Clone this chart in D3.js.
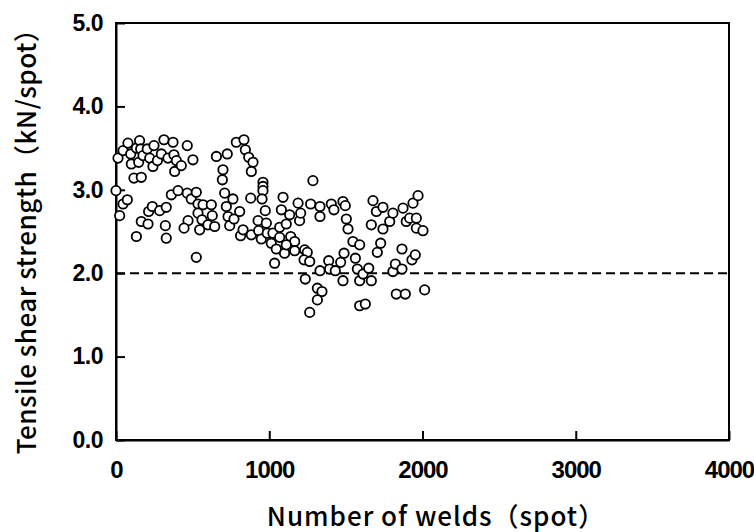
<!DOCTYPE html>
<html>
<head>
<meta charset="utf-8">
<script src="https://cdn.jsdelivr.net/npm/d3@7/dist/d3.min.js"></script>
<style>
  html, body { margin: 0; padding: 0; background: #fff; }
  svg { display: block; }
</style>
</head>
<body>
<svg id="chart" width="754" height="532"></svg>
<script>
// Number of welds (spot) for each tested specimen
const welds = [
  13, 46, 78, 96, 100, 133, 154, 148, 161, 176, 117, 165, 204, 220, 248, 241, 270, 296, 313, 339,
  372, 378, 394, 383, 426, 465, 502, 655, 726, 698, 694, 785, 835, 844, 866, 894, 883,
  0, 46, 74, 24, 133, 165, 209, 213, 237, 285, 328, 322, 328, 361, 405, 465, 491, 470, 444,
  524, 535, 568, 535, 561, 546, 600, 622, 628, 644, 524, 709, 720, 731, 742, 763, 770, 807,
  813, 829, 879, 883,
  959, 959, 959, 953, 974, 927, 931, 948, 981, 987, 1024, 1013, 1046, 1035, 1068, 1079, 1090,
  1068, 1111, 1100, 1133, 1140, 1166, 1111, 1166, 1188, 1198, 1205, 1231, 1248, 1227, 1264,
  1285, 1270, 1331, 1331, 1235, 1314, 1344, 1314, 1264, 1331, 1388, 1394, 1405, 1422, 1431,
  1466, 1488, 1481, 1496, 1503, 1514, 1481, 1546, 1562, 1575, 1590, 1590, 1612, 1649, 1666,
  1590, 1627, 1677, 1666, 1699, 1705, 1727, 1742, 1742, 1786, 1807, 1807, 1823, 1829, 1866,
  1866, 1873, 1888, 1894, 1916, 1931, 1953, 1938, 1971, 1960, 1960, 2003, 2014
];

// Tensile shear strength (kN/spot) measured at each weld count
const strength = [
  3.38, 3.47, 3.56, 3.43, 3.31, 3.50, 3.59, 3.33, 3.49, 3.41, 3.14, 3.15, 3.49, 3.38, 3.53, 3.28, 3.35, 3.43, 3.60, 3.38,
  3.57, 3.42, 3.35, 3.22, 3.29, 3.53, 3.36, 3.40, 3.43, 3.24, 3.12, 3.57, 3.60, 3.48, 3.39, 3.33, 3.22,
  2.99, 2.83, 2.88, 2.69, 2.44, 2.62, 2.59, 2.74, 2.80, 2.75, 2.79, 2.57, 2.42, 2.94, 2.99, 2.96, 2.89, 2.63, 2.54,
  2.97, 2.83, 2.82, 2.72, 2.64, 2.52, 2.58, 2.82, 2.69, 2.56, 2.19, 2.96, 2.80, 2.68, 2.57, 2.89, 2.65, 2.74,
  2.45, 2.52, 2.90, 2.46,
  3.09, 3.04, 2.99, 2.89, 2.75, 2.63, 2.51, 2.41, 2.60, 2.48, 2.48, 2.36, 2.29, 2.12, 2.55, 2.76, 2.91,
  2.43, 2.59, 2.24, 2.70, 2.44, 2.38, 2.34, 2.27, 2.84, 2.63, 2.72, 2.28, 2.25, 2.16, 2.14,
  3.11, 2.83, 2.80, 2.68, 1.93, 1.82, 1.78, 1.68, 1.53, 2.03, 2.15, 2.05, 2.83, 2.76, 2.03,
  2.13, 2.24, 2.86, 2.81, 2.65, 2.53, 1.91, 2.38, 2.18, 2.05, 2.34, 1.91, 1.99, 2.06, 1.91,
  1.61, 1.63, 2.87, 2.58, 2.74, 2.25, 2.36, 2.79, 2.53, 2.62, 2.72, 2.02, 2.11, 1.75, 2.29,
  2.05, 2.78, 1.75, 2.62, 2.66, 2.16, 2.22, 2.84, 2.93, 2.66, 2.54, 2.51, 1.80
];

// Axis ticks and the reference strength level
const xTicks = [0, 1000, 2000, 3000, 4000];
const yTicks = [0, 1, 2, 3, 4, 5];
const threshold = 2.0;

const xTitle = "Number of welds（spot）";
const yTitle = "Tensile shear strength（kN/spot）";

const svg = d3.select("#chart");
const plotLeft = 116, plotRight = 729, plotTop = 23, plotBottom = 440;

const x = d3.scaleLinear().domain([0, 4000]).range([plotLeft, plotRight]);
const y = d3.scaleLinear().domain([0, 5]).range([plotBottom, plotTop]);

const tickFont = "'Liberation Sans', Arial, sans-serif";
const titleFont = "'Noto Sans CJK JP', 'Noto Sans', sans-serif";

// Frame around the plotting area
svg.append("rect")
  .attr("x", plotLeft).attr("y", plotTop)
  .attr("width", plotRight - plotLeft).attr("height", plotBottom - plotTop)
  .attr("fill", "none").attr("stroke", "#000").attr("stroke-width", 2);

// Bottom axis: inward ticks
const gx = svg.append("g")
  .attr("transform", `translate(0,${plotBottom})`)
  .call(d3.axisBottom(x).tickValues(xTicks).tickSizeInner(-9).tickSizeOuter(0).tickPadding(21)
        .tickFormat(d3.format("d")));
gx.select(".domain").attr("stroke", "#000").attr("stroke-width", 2);
gx.selectAll(".tick line").attr("stroke", "#000").attr("stroke-width", 2);
gx.selectAll(".tick text")
  .attr("font-family", tickFont).attr("font-weight", "bold")
  .attr("font-size", 24).attr("fill", "#000")
  .attr("letter-spacing", "-1");

// Left axis: inward ticks
const gy = svg.append("g")
  .attr("transform", `translate(${plotLeft},0)`)
  .call(d3.axisLeft(y).tickValues(yTicks).tickSizeInner(-9).tickSizeOuter(0).tickPadding(13)
        .tickFormat(d3.format(".1f")));
gy.select(".domain").attr("stroke", "#000").attr("stroke-width", 2);
gy.selectAll(".tick line").attr("stroke", "#000").attr("stroke-width", 2);
gy.selectAll(".tick text")
  .attr("font-family", tickFont).attr("font-weight", "bold")
  .attr("font-size", 23).attr("fill", "#000")
  .attr("letter-spacing", "-0.5");

// Dashed reference line at 2.0 kN/spot
svg.append("line")
  .attr("x1", x(0)).attr("x2", x(4000))
  .attr("y1", y(threshold)).attr("y2", y(threshold))
  .attr("stroke", "#000").attr("stroke-width", 2)
  .attr("stroke-dasharray", "9,5");

// Measured points: open circles
const pts = welds.map((w, i) => ({ w, s: strength[i] }));
svg.append("g")
  .selectAll("circle")
  .data(pts)
  .join("circle")
  .attr("cx", d => x(d.w))
  .attr("cy", d => y(d.s))
  .attr("r", 4.7)
  .attr("fill", "#fff")
  .attr("stroke", "#000")
  .attr("stroke-width", 1.8);

// Axis titles
svg.append("text")
  .attr("x", 436).attr("y", 526)
  .attr("text-anchor", "middle")
  .attr("font-family", titleFont).attr("font-weight", 500)
  .attr("font-size", 26).attr("fill", "#000")
  .attr("letter-spacing", "1")
  .text(xTitle);

svg.append("text")
  .attr("transform", `translate(36,235) rotate(-90)`)
  .attr("text-anchor", "middle")
  .attr("font-family", titleFont).attr("font-weight", 500)
  .attr("font-size", 26).attr("fill", "#000")
  .attr("letter-spacing", "0.5")
  .text(yTitle);
</script>
</body>
</html>
